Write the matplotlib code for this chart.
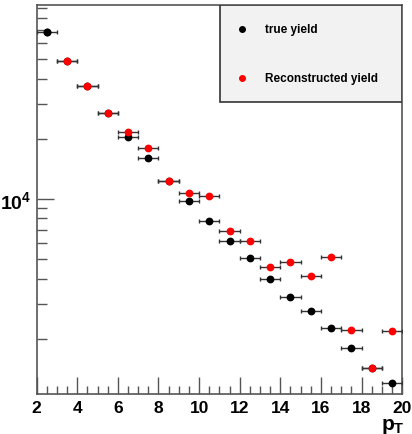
import numpy as np
import matplotlib
matplotlib.use("Agg")
import matplotlib.pyplot as plt
from matplotlib.ticker import LogLocator, MultipleLocator, NullFormatter, FixedLocator, FixedFormatter
from matplotlib.patches import Rectangle

pt = [2.5, 3.5, 4.5, 5.5, 6.5, 7.5, 8.5, 9.5, 10.5, 11.5, 12.5, 13.5, 14.5, 15.5, 16.5, 17.5, 18.5, 19.5]
true_yield = [68400, 48800, 36700, 27000, 20500, 16100, 12350, 9806, 7790, 6144, 5052, 3968, 3248, 2754, 2265, 1793, 1424, 1206]
reco_yield = [np.nan, 48800, 36700, 27000, 21700, 18050, 12350, 10680, 10310, 6942, 6144, 4556, 4842, 4136, 5129, 2205, 1424, 2188]
bin_half = [0.5] * len(pt)

plt.rcParams['font.family'] = ['Liberation Sans', 'DejaVu Sans']
plt.rcParams['mathtext.fontset'] = 'custom'
plt.rcParams['mathtext.rm'] = 'Liberation Sans'
plt.rcParams['mathtext.it'] = 'Liberation Sans:italic'
plt.rcParams['mathtext.bf'] = 'Liberation Sans:bold'

fig = plt.figure(figsize=(4.12, 4.35), dpi=100)
ax = fig.add_axes([0.089, 0.0913, 0.887, 0.895])

ax.errorbar(pt, true_yield, xerr=bin_half, fmt='o', color='black', ms=4.6,
            ecolor='#333333', elinewidth=1.0, capsize=1.6, capthick=1.0, zorder=3)
ax.errorbar(pt, reco_yield, xerr=bin_half, fmt='o', color='red', ms=4.6,
            ecolor='#333333', elinewidth=1.0, capsize=1.6, capthick=1.0, zorder=4)
ax.plot(pt[:1], true_yield[:1], 'o', color='black', ms=4.6, zorder=5)

ax.set_yscale('log')
ax.set_xlim(2, 20)
ax.set_ylim(1055, 93300)

ax.xaxis.set_major_locator(MultipleLocator(2))
ax.xaxis.set_minor_locator(MultipleLocator(0.5))
ax.yaxis.set_major_locator(FixedLocator([1e4]))
ax.yaxis.set_major_formatter(FixedFormatter([r'$\mathbf{10^4}$']))
ax.yaxis.set_minor_locator(LogLocator(base=10, subs=np.arange(2, 10), numticks=20))
ax.yaxis.set_minor_formatter(NullFormatter())

ax.tick_params(axis='x', which='major', direction='in', length=12, width=1, color='#555555',
               labelsize=12.5, pad=4, top=False)
ax.tick_params(axis='x', which='minor', direction='in', length=6, width=1, color='#555555', top=False)
ax.tick_params(axis='y', which='major', direction='in', length=12, width=1, color='#555555',
               labelsize=14, pad=4, right=False)
ax.tick_params(axis='y', which='minor', direction='in', length=7, width=1, color='#555555', right=False)
for lab in ax.get_xticklabels():
    lab.set_fontweight('bold')

for s in ax.spines.values():
    s.set_color('#555555')
    s.set_linewidth(1.2)

fig.text(0.983, 0.042, r'$\mathbf{p_T}$', ha='right', va='top', fontsize=15)

# legend box
def ypos(py):
    return 1 - (py - 6) / (395.3 - 6)
def xpos(px):
    return (px - 36.7) / (402 - 36.7)

ax.add_patch(Rectangle((xpos(220), ypos(103)), 1 - xpos(220), 1 - ypos(103), transform=ax.transAxes,
                       facecolor='#f2f2f2', edgecolor='#333333', lw=1.2, zorder=6))
ax.plot([xpos(242)], [ypos(30)], 'o', color='black', ms=4, transform=ax.transAxes, zorder=7)
ax.plot([xpos(242)], [ypos(79)], 'o', color='red', ms=4, transform=ax.transAxes, zorder=7)
ax.text(xpos(265), ypos(30), 'true yield', transform=ax.transAxes, fontsize=8.5,
        fontweight='bold', va='center', ha='left', zorder=7)
ax.text(xpos(265), ypos(79), 'Reconstructed yield', transform=ax.transAxes, fontsize=8.5,
        fontweight='bold', va='center', ha='left', zorder=7)

fig.savefig('out.png', dpi=100, facecolor='white')
